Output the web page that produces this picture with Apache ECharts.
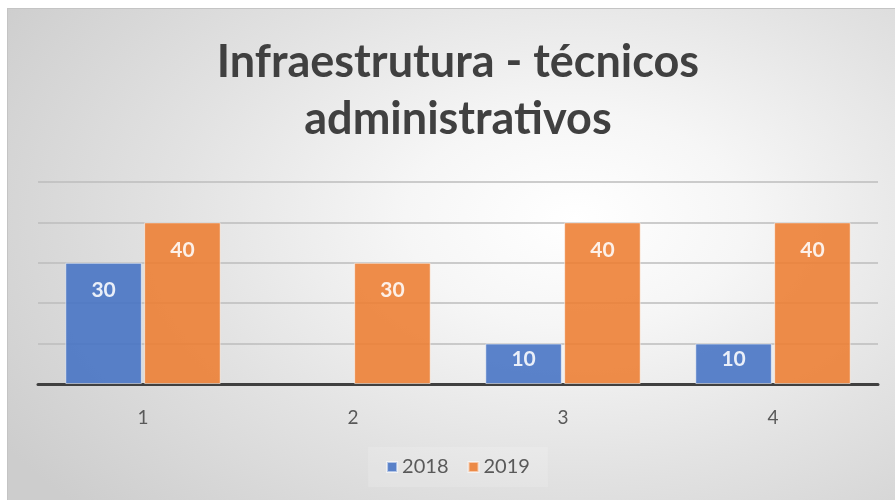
<!DOCTYPE html>
<html lang="pt-BR">
<head>
	<meta charset="utf-8" />
	<title>Infraestrutura - técnicos administrativos</title>
	<style>
		html, body { margin: 0; padding: 0; background: #ffffff; overflow: hidden; }
		#frame {
			position: absolute; left: 7px; top: 8px; width: 900px; height: 500px;
			border-left: 1px solid #c4c4c4; border-top: 1px solid #c4c4c4;
			background: radial-gradient(ellipse 75% 85% at 63% 42%, #ffffff 0%, #f6f6f6 25%, #e2e2e2 60%, #cdcdcd 100%);
		}
		#chart { width: 900px; height: 500px; }
	</style>
</head>
<body>
	<div id="frame"><div id="chart"></div></div>
	<script type="text/javascript" src="https://cdn.jsdelivr.net/npm/echarts@6/dist/echarts.min.js"></script>
	<script type="text/javascript">
		// dados
		const categories = ["1", "2", "3", "4"];
		const seriesNames = ["2018", "2019"];
		const values2018 = [30, 0, 10, 10];
		const values2019 = [40, 30, 40, 40];
		const yTicks = [0, 10, 20, 30, 40, 50];

		const fontFam = "Lato, 'Open Sans', sans-serif";

		// rotulo dentro do topo; barras baixas ficam com o rotulo mais perto do topo
		function toData(arr) {
			return arr.map(function (v) {
				return {
					value: v,
					label: { distance: v <= 10 ? 5 : 17 },
					itemStyle: v === 0 ? { borderWidth: 0, opacity: 0 } : {}
				};
			});
		}

		function barSeries(name, arr, color) {
			return {
				name: name,
				type: "bar",
				data: toData(arr),
				barGap: "3%",
				barCategoryGap: "26%",
				itemStyle: {
					color: color,
					opacity: 0.88,
					borderColor: "rgba(255,255,255,0.6)",
					borderWidth: 1
				},
				label: {
					show: true,
					position: "insideTop",
					color: "#ffffff",
					fontFamily: fontFam,
					fontWeight: "bold",
					fontSize: 21,
					formatter: function (p) { return p.value === 0 ? "" : String(p.value); }
				}
			};
		}

		const chart = echarts.init(document.getElementById("chart"));
		chart.setOption({
			backgroundColor: "transparent",
			animation: false,
			title: {
				text: "Infraestrutura - técnicos\nadministrativos",
				left: "center",
				top: 20,
				textStyle: {
					fontFamily: fontFam,
					fontWeight: "bold",
					fontSize: 45,
					lineHeight: 57,
					color: "#404040"
				}
			},
			legend: {
				data: seriesNames,
				bottom: 22,
				left: "center",
				icon: "rect",
				itemWidth: 10,
				itemHeight: 10,
				itemGap: 19,
				padding: [10, 18],
				backgroundColor: "rgba(255,255,255,0.15)",
				textStyle: { fontFamily: fontFam, fontSize: 20, color: "#595959" }
			},
			grid: { left: 30, top: 173, width: 840, height: 202 },
			xAxis: {
				type: "category",
				data: categories,
				axisLine: { lineStyle: { color: "#404040", width: 3 } },
				axisTick: { show: false },
				axisLabel: { fontFamily: fontFam, fontSize: 19, color: "#595959", margin: 24 }
			},
			yAxis: {
				type: "value",
				min: yTicks[0],
				max: yTicks[yTicks.length - 1],
				interval: yTicks[1] - yTicks[0],
				axisLabel: { show: false },
				axisLine: { show: false },
				axisTick: { show: false },
				splitLine: { lineStyle: { color: "#bdbdbd", width: 1.5 } }
			},
			series: [
				barSeries(seriesNames[0], values2018, "#4472C4"),
				barSeries(seriesNames[1], values2019, "#ED7D31")
			]
		});
	</script>
</body>
</html>
